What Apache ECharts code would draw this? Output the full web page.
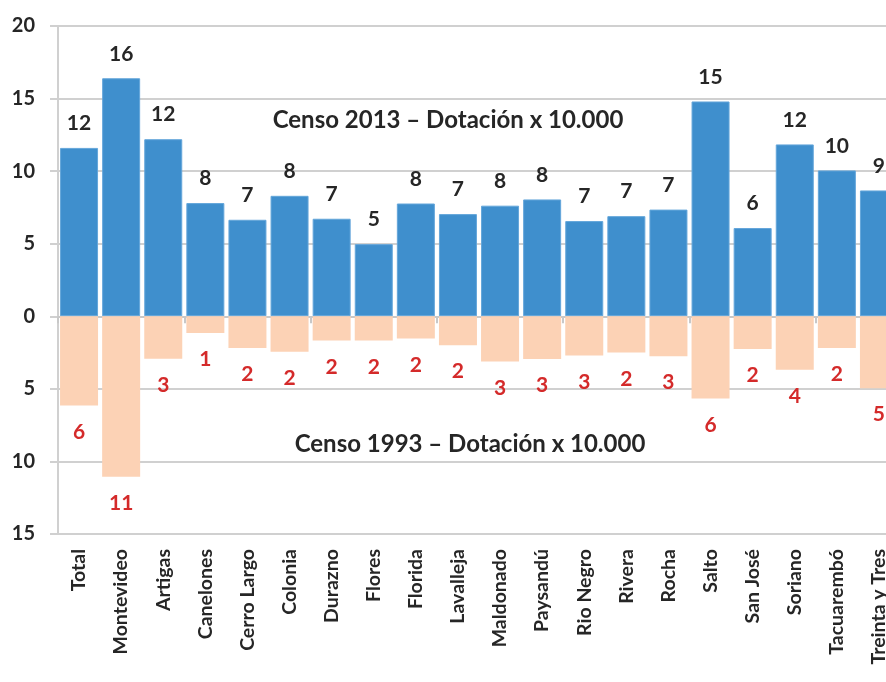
<!DOCTYPE html>
<html>
<head>
<meta charset="utf-8">
<script src="https://cdn.jsdelivr.net/npm/echarts@6/dist/echarts.min.js"></script>
<style>
html,body{margin:0;padding:0;background:#fff;}
#chart{width:886px;height:682px;}
</style>
</head>
<body>
<div id="chart"></div>
<script>
const categories = ['Total','Montevideo','Artigas','Canelones','Cerro Largo','Colonia','Durazno','Flores','Florida','Lavalleja','Maldonado','Paysandú','Rio Negro','Rivera','Rocha','Salto','San José','Soriano','Tacuarembó','Treinta y Tres'];
const censo2013 = [11.6,16.4,12.2,7.8,6.65,8.3,6.72,4.97,7.77,7.04,7.62,8.05,6.56,6.9,7.35,14.8,6.08,11.84,10.05,8.67];
const censo1993 = [-6.15,-11.06,-2.93,-1.16,-2.19,-2.45,-1.67,-1.67,-1.53,-1.99,-3.11,-2.95,-2.7,-2.49,-2.75,-5.66,-2.26,-3.69,-2.19,-4.95];
const yTicks = {min:-15, max:20, interval:5};
const title2013 = 'Censo 2013 – Dotación x 10.000';
const title1993 = 'Censo 1993 – Dotación x 10.000';

const FONT = 'Lato';
const chart = echarts.init(document.getElementById('chart'), null, {renderer:'canvas'});
chart.setOption({
  animation:false,
  backgroundColor:'#ffffff',
  graphic:[
    {type:'text', x:448, y:120, z:100,
     style:{text:title2013, align:'center', verticalAlign:'middle', font:'bold 24px Lato', fill:'#262626'}},
    {type:'text', x:470, y:444, z:100,
     style:{text:title1993, align:'center', verticalAlign:'middle', font:'bold 24px Lato', fill:'#262626'}}
  ],
  grid:{left:58, top:26, bottom:148, width:842, containLabel:false, outerBoundsMode:'none'},
  xAxis:[
    {type:'category', data:categories, position:'top',
     axisLine:{onZero:true, lineStyle:{color:'#c8c8c8', width:2}},
     axisTick:{show:true, inside:true, length:7, lineStyle:{color:'#c8c8c8', width:2}},
     axisLabel:{show:false}, splitLine:{show:false}},
    {type:'category', data:categories, position:'bottom',
     axisLine:{show:true, onZero:false, lineStyle:{color:'#d0d0d0', width:2}},
     axisTick:{show:false},
     axisLabel:{rotate:90, margin:15, fontFamily:FONT, fontWeight:'bold', fontSize:19.5, color:'#262626', interval:0}}
  ],
  yAxis:{
    type:'value', min:yTicks.min, max:yTicks.max, interval:yTicks.interval,
    axisLine:{show:true, lineStyle:{color:'#d0d0d0', width:2}},
    axisTick:{show:true, length:8, lineStyle:{color:'#d0d0d0', width:2}},
    splitLine:{show:true, lineStyle:{color:'#d0d0d0', width:2}},
    axisLabel:{margin:23, fontFamily:FONT, fontWeight:'bold', fontSize:20, color:'#262626',
      formatter:v=>String(Math.abs(v))}
  },
  series:[
    {name:'Censo 2013', type:'bar', xAxisIndex:1, data:censo2013, barWidth:38, barGap:'-100%',
     itemStyle:{color:'#3f8fcd', borderColor:'#64a6da', borderWidth:1},
     label:{show:true, position:'top', distance:14, fontFamily:FONT, fontWeight:'bold', fontSize:21, color:'#262626',
       formatter:p=>String(Math.round(Math.abs(p.value)))}},
    {name:'Censo 1993', type:'bar', xAxisIndex:1, data:censo1993, barWidth:38, barGap:'-100%',
     itemStyle:{color:'#fcd2b5'},
     label:{show:true, position:'bottom', distance:16, fontFamily:FONT, fontWeight:'bold', fontSize:21, color:'#d42a2a',
       formatter:p=>String(Math.round(Math.abs(p.value)))}}
  ]
});
</script>
</body>
</html>
